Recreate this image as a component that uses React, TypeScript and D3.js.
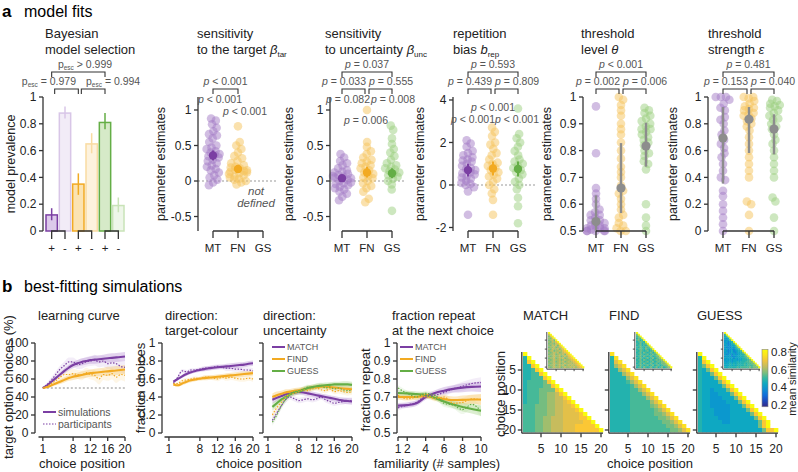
import React, { useMemo } from "react";
import * as d3 from "d3";

const FONT = "'Liberation Sans', Arial, Helvetica, sans-serif";
const AXIS = "#333";
const NOTE = "#555";
const TXT = "#222";

const PURPLE = "#7b3fa3";
const ORANGE = "#f2aa22";
const GREEN = "#64ae46";
const GREY = "#8d8d8d";
const modelColours = [PURPLE, ORANGE, GREEN];
const pointColours = ["#a47cc6", "#f6c35c", "#9ccf7f"];
const bandColours = ["#b58fd3", "#f8c565", "#a2d286"];

// ---------------- panel a: model fits ----------------
const modelCodes = ["MT", "FN", "GS"];
const modelNames = ["MATCH", "FIND", "GUESS"];
const bmsConds = ["+", "-", "+", "-", "+", "-"];
const bmsPrevalence = [0.12, 0.88, 0.35, 0.65, 0.81, 0.19];
const bmsLower = [0.08, 0.84, 0.27, 0.58, 0.76, 0.14];
const bmsUpper = [0.17, 0.93, 0.43, 0.73, 0.88, 0.25];
const bmsFill = ["#dcc9ea", "#f2ecf7", "#fbe3b2", "#fdf2dd", "#d6eac8", "#eef6e9"];
const bmsStroke = [PURPLE, "#d8c6e7", ORANGE, "#f9dba2", GREEN, "#c9e3b8"];
const bmsTicks = [0, 0.2, 0.4, 0.6, 0.8, 1];

// sensitivity to the target
const betaTarMT = [0.88, 0.85, 0.8, 0.75, 0.7, 0.66, 0.64, 0.6, 0.55, 0.5, 0.47, 0.45, 0.42, 0.4, 0.38, 0.37, 0.35, 0.33, 0.3, 0.28, 0.25, 0.22, 0.2, 0.17, 0.15, 0.12, 0.08, 0.05, 0.02, -0.02, -0.06];
const betaTarFN = [0.77, 0.55, 0.5, 0.45, 0.4, 0.35, 0.32, 0.28, 0.25, 0.22, 0.2, 0.19, 0.18, 0.16, 0.15, 0.14, 0.13, 0.12, 0.11, 0.1, 0.08, 0.06, 0.05, 0.03, 0.02, 0.0, -0.02, -0.05];
const betaTarMean = [0.36, 0.17];
const betaTarLo = [0.29, 0.12];
const betaTarHi = [0.43, 0.22];

// sensitivity to uncertainty
const betaUncMT = [0.38, 0.33, 0.28, 0.25, 0.22, 0.18, 0.15, 0.13, 0.12, 0.1, 0.08, 0.07, 0.06, 0.05, 0.04, 0.02, 0.0, -0.02, -0.03, -0.04, -0.06, -0.08, -0.1, -0.12, -0.15, -0.18, -0.22, -0.27];
const betaUncFN = [1.0, 0.55, 0.48, 0.42, 0.38, 0.33, 0.3, 0.27, 0.25, 0.22, 0.2, 0.18, 0.15, 0.12, 0.1, 0.07, 0.05, 0.04, 0.0, -0.03, -0.07, -0.1, -0.15, -0.25, -0.3];
const betaUncGS = [0.78, 0.72, 0.6, 0.52, 0.45, 0.4, 0.35, 0.3, 0.25, 0.22, 0.2, 0.18, 0.16, 0.14, 0.12, 0.1, 0.08, 0.06, 0.03, 0.0, -0.05, -0.12, -0.42];
const betaUncMean = [0.04, 0.12, 0.11];
const betaUncLo = [0.0, 0.05, 0.04];
const betaUncHi = [0.08, 0.2, 0.18];

// repetition bias
const repBiasMT = [2.1, 1.95, 1.8, 1.6, 1.5, 1.4, 1.3, 1.2, 1.15, 1.1, 1.0, 0.9, 0.8, 0.75, 0.7, 0.6, 0.55, 0.5, 0.4, 0.35, 0.3, 0.2, 0.1, 0.05, 0.0, -0.1, -0.3, -1.4];
const repBiasFN = [2.7, 2.5, 2.3, 2.0, 1.9, 1.7, 1.5, 1.4, 1.2, 1.05, 1.0, 0.9, 0.8, 0.7, 0.6, 0.5, 0.4, 0.3, 0.15, 0.0, -0.2, -0.4, -0.7, -1.4];
const repBiasGS = [3.6, 2.4, 2.2, 2.0, 1.8, 1.6, 1.4, 1.2, 1.1, 1.0, 0.9, 0.8, 0.7, 0.6, 0.5, 0.3, 0.15, 0.0, -0.2, -0.6, -1.0, -1.8];
const repBiasMean = [0.7, 0.78, 0.75];
const repBiasLo = [0.4, 0.45, 0.4];
const repBiasHi = [1.0, 1.1, 1.1];

// threshold level
const thetaMT = [0.965, 0.79, 0.66, 0.64, 0.62, 0.6, 0.58, 0.57, 0.56, 0.56, 0.55, 0.54, 0.54, 0.53, 0.53, 0.52, 0.52, 0.52, 0.51, 0.51, 0.51, 0.505, 0.5, 0.5, 0.5, 0.5, 0.5];
const thetaFN = [1.0, 0.99, 0.97, 0.95, 0.93, 0.9, 0.88, 0.86, 0.83, 0.8, 0.77, 0.74, 0.72, 0.7, 0.67, 0.65, 0.64, 0.62, 0.6, 0.58, 0.56, 0.55, 0.53, 0.52, 0.51, 0.5, 0.5];
const thetaGS = [0.96, 0.95, 0.94, 0.93, 0.92, 0.91, 0.9, 0.89, 0.88, 0.88, 0.87, 0.86, 0.85, 0.84, 0.83, 0.82, 0.8, 0.79, 0.78, 0.76, 0.75, 0.73, 0.6, 0.55, 0.52, 0.5];
const thetaMedian = [0.535, 0.66, 0.817];
const thetaLo = [0.5, 0.567, 0.74];
const thetaHi = [0.633, 0.828, 0.904];

// threshold strength
const epsMT = [1.0, 1.0, 1.0, 0.98, 0.95, 0.92, 0.9, 0.85, 0.83, 0.8, 0.75, 0.72, 0.68, 0.65, 0.62, 0.58, 0.55, 0.5, 0.45, 0.4, 0.38, 0.3, 0.26, 0.2, 0.15, 0.1, 0.05, 0.0];
const epsFN = [1.0, 1.0, 0.99, 0.97, 0.95, 0.93, 0.92, 0.91, 0.9, 0.88, 0.87, 0.86, 0.84, 0.82, 0.8, 0.78, 0.75, 0.7, 0.65, 0.6, 0.55, 0.5, 0.45, 0.4, 0.22, 0.2, 0.12, 0.0];
const epsGS = [0.98, 0.97, 0.95, 0.94, 0.93, 0.92, 0.9, 0.88, 0.86, 0.84, 0.83, 0.8, 0.78, 0.76, 0.72, 0.68, 0.65, 0.6, 0.55, 0.5, 0.45, 0.4, 0.25, 0.22, 0.1, 0.0];
const epsMedian = [0.694, 0.834, 0.761];
const epsLo = [0.354, 0.582, 0.572];
const epsHi = [0.925, 0.925, 0.871];

// ---------------- panel b: best-fitting simulations ----------------
const choicePositions = [1, 2, 3, 4, 5, 6, 7, 8, 9, 10, 11, 12, 13, 14, 15, 16, 17, 18, 19, 20];
const choiceTicks = [1, 8, 12, 16, 20];

const lcMatchSim = [50, 53, 57, 61, 65, 69, 72.5, 75.5, 77.5, 79, 80, 81, 81.5, 82, 82.5, 83, 83.5, 84, 84.5, 85];
const lcMatchPpt = [50, 54, 59, 65, 71, 75, 79, 79, 76, 77, 79, 80, 81, 79, 80, 77, 78, 77, 74, 73];
const lcFindSim = [50, 51, 53, 55, 57, 59, 61, 62.5, 63.5, 64.5, 65.5, 66.5, 67, 67.5, 68, 68.5, 69, 69.5, 70, 70.5];
const lcFindPpt = [50, 52, 55, 58, 62, 65, 65, 66, 65, 64, 67, 65, 64, 60, 65, 64, 66, 62, 65, 64];
const lcSimSem = [0.5, 1, 1.5, 2, 2.5, 3, 3, 3.5, 3.5, 4, 4, 4, 4.5, 4.5, 4.5, 5, 5, 5, 5, 5];
const lcPptSem = [1, 2, 3, 3.5, 4, 4.5, 5, 5, 5, 5.5, 5.5, 5.5, 6, 6, 6, 6, 6.5, 6.5, 6.5, 7];

const dirPositions = [2, 3, 4, 5, 6, 7, 8, 9, 10, 11, 12, 13, 14, 15, 16, 17, 18, 19, 20];
const tcMatchSim = [0.57, 0.6, 0.63, 0.655, 0.675, 0.69, 0.7, 0.71, 0.72, 0.725, 0.73, 0.735, 0.74, 0.745, 0.75, 0.755, 0.76, 0.77, 0.775];
const tcMatchPpt = [0.55, 0.62, 0.69, 0.68, 0.7, 0.7, 0.71, 0.72, 0.72, 0.73, 0.74, 0.73, 0.72, 0.72, 0.71, 0.71, 0.7, 0.7, 0.69];
const tcFindSim = [0.54, 0.53, 0.55, 0.57, 0.585, 0.595, 0.605, 0.61, 0.615, 0.62, 0.625, 0.63, 0.635, 0.64, 0.645, 0.65, 0.655, 0.66, 0.665];
const tcFindPpt = [0.55, 0.55, 0.58, 0.59, 0.6, 0.61, 0.6, 0.62, 0.62, 0.61, 0.6, 0.62, 0.61, 0.62, 0.61, 0.6, 0.6, 0.61, 0.6];
const tcSem = [0.015, 0.015, 0.02, 0.02, 0.02, 0.02, 0.02, 0.025, 0.025, 0.025, 0.025, 0.025, 0.03, 0.03, 0.03, 0.03, 0.03, 0.03, 0.03];

const uncMatchSim = [0.37, 0.39, 0.41, 0.43, 0.44, 0.45, 0.455, 0.45, 0.44, 0.43, 0.42, 0.41, 0.4, 0.39, 0.38, 0.37, 0.36, 0.355, 0.35];
const uncFindSim = [0.4, 0.42, 0.435, 0.45, 0.46, 0.47, 0.475, 0.485, 0.495, 0.505, 0.51, 0.515, 0.515, 0.51, 0.505, 0.5, 0.495, 0.49, 0.485];
const uncGuessSim = [0.29, 0.33, 0.37, 0.4, 0.43, 0.45, 0.46, 0.48, 0.5, 0.51, 0.52, 0.525, 0.53, 0.535, 0.54, 0.54, 0.54, 0.54, 0.535];
const uncMatchPpt = [0.14, 0.22, 0.3, 0.37, 0.4, 0.38, 0.36, 0.37, 0.38, 0.37, 0.38, 0.4, 0.37, 0.35, 0.33, 0.34, 0.35, 0.36, 0.36];
const uncFindPpt = [0.2, 0.28, 0.34, 0.4, 0.43, 0.44, 0.46, 0.48, 0.47, 0.49, 0.5, 0.48, 0.47, 0.49, 0.46, 0.47, 0.46, 0.45, 0.46];
const uncGuessPpt = [0.12, 0.2, 0.3, 0.37, 0.42, 0.46, 0.47, 0.49, 0.51, 0.5, 0.52, 0.53, 0.5, 0.51, 0.49, 0.5, 0.48, 0.47, 0.48];
const uncSem = [0.04, 0.04, 0.035, 0.035, 0.03, 0.03, 0.03, 0.03, 0.03, 0.03, 0.03, 0.03, 0.03, 0.03, 0.03, 0.03, 0.035, 0.035, 0.035];

const familiarity = [1, 2, 3, 4, 5, 6, 7, 8, 9, 10];
const familiarityTicks = [1, 2, 4, 6, 8, 10];
const repMatchSim = [0.652, 0.655, 0.665, 0.7, 0.722, 0.735, 0.745, 0.752, 0.756, 0.758];
const repFindSim = [0.7, 0.7, 0.7, 0.705, 0.695, 0.688, 0.683, 0.684, 0.686, 0.686];
const repGuessSim = [0.722, 0.72, 0.716, 0.712, 0.695, 0.675, 0.658, 0.645, 0.633, 0.624];
const repMatchPpt = [0.64, 0.655, 0.67, 0.705, 0.71, 0.725, 0.745, 0.76, 0.775, 0.78];
const repFindPpt = [0.71, 0.69, 0.7, 0.715, 0.69, 0.7, 0.665, 0.67, 0.69, 0.685];
const repGuessPpt = [0.75, 0.72, 0.7, 0.72, 0.71, 0.665, 0.655, 0.63, 0.66, 0.62];
const repSem = [0.015, 0.015, 0.015, 0.015, 0.015, 0.02, 0.02, 0.025, 0.025, 0.03];

// similarity matrices: one string per choice position, one hex level per earlier choice
const matchSimilarity = [
  "f", "7f", "7df", "77df", "778df", "7788df", "77888df", "788889df", "7888899df", "78889999df",
  "788899aabdf", "788899aabbdf", "788899aabbcdf", "888999aabbccdf", "888999aabbcccdf",
  "888999aabbccccdf", "88899aabbbccccddf", "88899aabbbcccccddf", "88899aabbbcccdddddf", "88899aabbbcccddddddf",
];
const findSimilarity = [
  "e", "7e", "7ce", "7ace", "77ace", "777ace", "7777ace", "77778ace", "777778ace", "7777788ace",
  "77777888ace", "777778888ace", "7777788888ace", "77777888889ace", "777778888889ace",
  "7777788888899ace", "77777888888899ace", "777778888888899ace", "7777788888888899ace", "77777888888888899ace",
];
const guessSimilarity = [
  "f", "7f", "7df", "79df", "769df", "7669df", "76669df", "766669df", "7666669df", "76656669df",
  "766556669df", "7665556669df", "76655556669df", "766555556669df", "7666555566669df",
  "76665555666669df", "766665556666669df", "7666665566666669df", "7666666666666669df", "76666666666666669ddf",
];
const matchSimilarityPpt = [
  "f", "bf", "9cf", "a9cf", "9ab9f", "a9bacf", "9aa9bcf", "a9bab9cf", "9aab9abcf", "a9baab9bcf",
  "9ab9aabacdf", "a9abab9abcdf", "9aab9abab9cdf", "a9abaab9abacdf", "9aab9abab9abcdf",
  "a9abaab9abaabcdf", "9aab9abab9ababcdf", "a9abaab9abaababcdf", "9aab9abab9abababcdf", "a9abaab9abaabababcdf",
];
const findSimilarityPpt = [
  "f", "9f", "89f", "798f", "8978f", "78987f", "879789f", "7897879f", "87987989f", "789879879f",
  "8798789789f", "78979878979f", "879878978989f", "7897987897899f", "8798789789789af",
  "78979878978989af", "879878978978989af", "7897987897897899af", "87987897897897899af", "789798789789789789af",
];
const guessSimilarityPpt = [
  "f", "7f", "68f", "657f", "5568f", "56467f", "654578f", "5645668f", "64546579f", "564554678f",
  "6545645678f", "56456546679f", "645646556778f", "5656455667789f", "65656465667789f",
  "565656656677789f", "6566566767778899f", "66676767777878899f", "666767677778788899f", "7677777878888898999f",
];
const similarityTicks = [5, 10, 15, 20];
const colourbarTicks = [0.2, 0.4, 0.6, 0.8];

// parula-like colour map
const parula = ["#352a87", "#0f5cdd", "#1481d6", "#06a4ca", "#2eb7a4", "#87bf77", "#d1bb59", "#fec832", "#f9fb0e"];
const simColour = d3.scaleSequential(d3.piecewise(d3.interpolateRgb, parula)).domain([0.2, 0.8]).clamp(true);
const levelValue = (ch: string) => 0.2 + parseInt(ch, 16) * 0.04;

// ---------------- helpers ----------------
function YAxis({ x, scale, ticks, labels = true, fmt = (v: number) => String(v), size = 12 }: any) {
  const r = scale.range();
  return (
    <g>
      <line x1={x} x2={x} y1={Math.min(r[0], r[1])} y2={Math.max(r[0], r[1])} stroke={AXIS} strokeWidth={1.3} />
      {ticks.map((t: number) => (
        <g key={t}>
          <line x1={x - 4} x2={x} y1={scale(t)} y2={scale(t)} stroke={AXIS} strokeWidth={1.3} />
          {labels && (
            <text x={x - 6.5} y={scale(t)} dy="0.35em" textAnchor="end" fontSize={size} fill={TXT}>
              {fmt(t)}
            </text>
          )}
        </g>
      ))}
    </g>
  );
}

function XAxis({ y, scale, ticks, from, to, labelY, size = 12, labels = true, tick = 4 }: any) {
  return (
    <g>
      <line x1={from} x2={to} y1={y} y2={y} stroke={AXIS} strokeWidth={1.3} />
      {ticks.map((t: number) => (
        <g key={t}>
          <line x1={scale(t)} x2={scale(t)} y1={y} y2={y + tick} stroke={AXIS} strokeWidth={1.3} />
          {labels && (
            <text x={scale(t)} y={labelY} textAnchor="middle" fontSize={size} fill={TXT}>
              {t}
            </text>
          )}
        </g>
      ))}
    </g>
  );
}

function VText({ x, y, children, size = 12.5 }: any) {
  return (
    <text transform={`translate(${x},${y}) rotate(-90)`} textAnchor="middle" fontSize={size} fill={TXT}>
      {children}
    </text>
  );
}

function PText({ x, y, text, anchor = "middle" }: any) {
  return (
    <text x={x} y={y} textAnchor={anchor} fontSize={10.5} fill={NOTE}>
      <tspan fontStyle="italic">p</tspan>
      {" " + text}
    </text>
  );
}

function PEsc({ x, y, text, anchor = "middle" }: any) {
  return (
    <text x={x} y={y} textAnchor={anchor} fontSize={10.5} fill={NOTE}>
      p<tspan fontSize={6.5} dy={2}>esc</tspan>
      <tspan dy={-2}>{" " + text}</tspan>
    </text>
  );
}

function Bracket({ x1, x2, y, drop = 5 }: any) {
  return <path d={`M${x1},${y + drop}V${y}H${x2}V${y + drop}`} fill="none" stroke={AXIS} strokeWidth={1.1} />;
}

const Y_TOP = 97;
const Y_BOT = 231;

function Swarm({ values, cx, y, colour }: any) {
  const pts = useMemo(() => {
    const nodes: any[] = values.map((v: number, i: number) => ({
      x: cx + (((i * 7) % 11) - 5) * 0.9,
      y: y(v),
      ty: y(v),
    }));
    const sim = d3
      .forceSimulation(nodes)
      .force("x", d3.forceX(cx).strength(0.07))
      .force("y", d3.forceY((d: any) => d.ty).strength(0.9))
      .force("c", d3.forceCollide(2.6))
      .stop();
    for (let k = 0; k < 160; k++) sim.tick();
    return nodes.map((n) => ({ x: Math.max(cx - 9, Math.min(cx + 9, n.x)), y: n.ty }));
  }, [values, cx]);
  return (
    <g>
      {pts.map((p: any, i: number) => (
        <circle key={i} cx={p.x} cy={p.y} r={4.3} fill={colour} fillOpacity={0.5} />
      ))}
    </g>
  );
}

function ScatterPanel({ cfg }: any) {
  const y = d3.scaleLinear().domain(cfg.domain).range([Y_BOT, Y_TOP]);
  const xs = cfg.catX;
  return (
    <g>
      {cfg.zeroLine && (
        <line x1={cfg.zeroLine[0]} x2={cfg.zeroLine[1]} y1={y(0)} y2={y(0)} stroke="#9a9a9a" strokeWidth={1.1} strokeDasharray="2 2" />
      )}
      {cfg.groups.map((vals: number[], gi: number) => (
        <Swarm key={gi} values={vals} cx={xs[gi]} y={y} colour={pointColours[gi]} />
      ))}
      {cfg.mean.map((m: number, gi: number) => (
        <g key={gi}>
          <line x1={xs[gi]} x2={xs[gi]} y1={y(cfg.lo[gi])} y2={y(cfg.hi[gi])} stroke={cfg.meanColours[gi]} strokeWidth={cfg.grey ? 2.4 : 2} />
          <circle cx={xs[gi]} cy={y(m)} r={cfg.grey ? 4.6 : 4.2} fill={cfg.meanColours[gi]} />
        </g>
      ))}
      <YAxis x={cfg.axisX} scale={y} ticks={cfg.ticks} />
      <VText x={cfg.yTitleX} y={164}>parameter estimates</VText>
      <line x1={xs[0]} x2={xs[2]} y1={Y_BOT} y2={Y_BOT} stroke={AXIS} strokeWidth={1.3} />
      {modelCodes.map((c, i) => (
        <g key={c}>
          <line x1={xs[i]} x2={xs[i]} y1={Y_BOT} y2={Y_BOT + 7} stroke={AXIS} strokeWidth={1.3} />
          <text x={xs[i]} y={252} textAnchor="middle" fontSize={11.5} fill={TXT}>
            {c}
          </text>
        </g>
      ))}
      {cfg.top && (
        <g>
          <Bracket x1={xs[0]} x2={xs[2]} y={72} />
          <PText x={(xs[0] + xs[2]) / 2} y={68} text={cfg.top} />
        </g>
      )}
      {cfg.left && (
        <g>
          <Bracket x1={xs[0]} x2={xs[1] - 2} y={89} />
          <PText x={xs[1] - 1} y={85} text={cfg.left} anchor="end" />
        </g>
      )}
      {cfg.right && (
        <g>
          <Bracket x1={xs[1] + 2} x2={xs[2]} y={89} />
          <PText x={xs[1] + 2} y={85} text={cfg.right} anchor="start" />
        </g>
      )}
      {cfg.single && (
        <g>
          <Bracket x1={xs[0]} x2={xs[1]} y={89} />
          <PText x={(xs[0] + xs[1]) / 2} y={85} text={cfg.single} />
        </g>
      )}
      {cfg.vsZero.map((s: any, i: number) => (
        <PText key={i} x={s.x} y={s.y} text={s.text} />
      ))}
    </g>
  );
}

function BmsPanel() {
  const x = d3.scaleBand<number>().domain([0, 1, 2, 3, 4, 5]).range([46, 124]).paddingInner(0.15);
  const y = d3.scaleLinear().domain([0, 1]).range([Y_BOT, Y_TOP]);
  const c = (i: number) => (x(i) as number) + x.bandwidth() / 2;
  return (
    <g>
      <text x={45} y={38} fontSize={13} fill={TXT}>Bayesian</text>
      <text x={45} y={54} fontSize={13} fill={TXT}>model selection</text>
      {bmsPrevalence.map((v, i) => (
        <g key={i}>
          <rect x={x(i)} y={y(v)} width={x.bandwidth()} height={Y_BOT - y(v)} fill={bmsFill[i]} stroke={bmsStroke[i]} strokeWidth={1.5} />
          <line x1={c(i)} x2={c(i)} y1={y(bmsLower[i])} y2={y(bmsUpper[i])} stroke={bmsStroke[i]} strokeWidth={1.5} />
          <text x={c(i)} y={252} textAnchor="middle" fontSize={11.5} fill={TXT}>
            {bmsConds[i]}
          </text>
        </g>
      ))}
      {[0, 2, 4].map((i) => (
        <path key={i} d={`M${c(i)},${Y_BOT + 8}V${Y_BOT}H${c(i + 1)}V${Y_BOT + 8}`} fill="none" stroke={AXIS} strokeWidth={1.3} />
      ))}
      <YAxis x={43} scale={y} ticks={bmsTicks} />
      <VText x={15} y={164}>model prevalence</VText>
      <Bracket x1={c(0)} x2={c(4)} y={72} />
      <PEsc x={85} y={68} text="> 0.999" />
      <Bracket x1={c(0) + 3} x2={c(2)} y={89} />
      <PEsc x={76} y={85} text="= 0.979" anchor="end" />
      <Bracket x1={c(2) + 3} x2={c(4)} y={89} />
      <PEsc x={86} y={85} text="= 0.994" anchor="start" />
    </g>
  );
}

const Sub = ({ children }: any) => (
  <tspan fontSize={8} dy={3}>
    {children}
  </tspan>
);

function CurvePanel({ axisX, xScale, yScale, yTicks, yLabels = true, fmt, xTicks, positions, series }: any) {
  const line = (vals: number[]) =>
    d3
      .line<number>()
      .x((_, i) => xScale(positions[i]))
      .y((d) => yScale(d))
      .curve(d3.curveMonotoneX)(vals) as string;
  const band = (vals: number[], sem: number[]) =>
    d3
      .area<number>()
      .x((_, i) => xScale(positions[i]))
      .y0((d, i) => yScale(d - sem[i]))
      .y1((d, i) => yScale(d + sem[i]))
      .curve(d3.curveMonotoneX)(vals) as string;
  const dom = xScale.domain();
  return (
    <g>
      {series.map((s: any, i: number) => (
        <path key={"pb" + i} d={band(s.ppt, s.pptSem)} fill={s.band} fillOpacity={0.16} />
      ))}
      {series.map((s: any, i: number) => (
        <path key={"sb" + i} d={band(s.sim, s.sem)} fill={s.band} fillOpacity={0.38} />
      ))}
      {series.map((s: any, i: number) => (
        <path key={"sl" + i} d={line(s.sim)} fill="none" stroke={s.colour} strokeWidth={2.1} />
      ))}
      {series.map((s: any, i: number) => (
        <path key={"pl" + i} d={line(s.ppt)} fill="none" stroke={s.colour} strokeWidth={1.2} strokeDasharray="1.5 1.5" />
      ))}
      <YAxis x={axisX} scale={yScale} ticks={yTicks} labels={yLabels} fmt={fmt} />
      <XAxis y={437} scale={xScale} ticks={xTicks} from={xScale(dom[0])} to={xScale(dom[1])} labelY={453} />
    </g>
  );
}

function Legend({ x, y, entries }: any) {
  return (
    <g>
      {entries.map((e: any, i: number) => (
        <g key={i}>
          <line x1={x} x2={x + 13} y1={y + i * 12} y2={y + i * 12} stroke={e.colour} strokeWidth={e.dotted ? 1.2 : 2} strokeDasharray={e.dotted ? "1.5 1.5" : undefined} />
          <text x={x + 15} y={y + i * 12} dy="0.35em" fontSize={e.size || 9} fill={NOTE}>
            {e.label}
          </text>
        </g>
      ))}
    </g>
  );
}

function Triangle({ rows, x0, y0, size, yLabels = false, xLabels = true, small = false }: any) {
  const idx = rows.map((_: string, i: number) => i + 1);
  const x = d3.scaleBand<number>().domain(idx).range([x0, x0 + size]);
  const y = d3.scaleBand<number>().domain(idx).range([y0, y0 + size]);
  const bw = x.bandwidth();
  const tick = small ? 2 : 4;
  const sw = small ? 0.9 : 1.3;
  return (
    <g>
      {rows.map((row: string, i: number) =>
        row.split("").map((ch, j) => (
          <rect key={i + "-" + j} x={x(j + 1)} y={y(i + 1)} width={bw + 0.35} height={bw + 0.35} fill={simColour(levelValue(ch))} />
        ))
      )}
      <line x1={x0 - 1.2} x2={x0 - 1.2} y1={y0} y2={y0 + size + 1.2} stroke={AXIS} strokeWidth={sw} />
      <line x1={x0 - 1.2} x2={x0 + size} y1={y0 + size + 1.2} y2={y0 + size + 1.2} stroke={AXIS} strokeWidth={sw} />
      {similarityTicks.map((t) => (
        <g key={t}>
          <line x1={x0 - 1.2 - tick} x2={x0 - 1.2} y1={(y(t) as number) + bw / 2} y2={(y(t) as number) + bw / 2} stroke={AXIS} strokeWidth={sw} />
          <line x1={(x(t) as number) + bw / 2} x2={(x(t) as number) + bw / 2} y1={y0 + size + 1.2} y2={y0 + size + 1.2 + tick} stroke={AXIS} strokeWidth={sw} />
          {yLabels && (
            <text x={x0 - 7} y={(y(t) as number) + bw / 2} dy="0.35em" textAnchor="end" fontSize={12} fill={TXT}>
              {t}
            </text>
          )}
          {xLabels && (
            <text x={(x(t) as number) + bw / 2} y={453} textAnchor="middle" fontSize={12} fill={TXT}>
              {t}
            </text>
          )}
        </g>
      ))}
    </g>
  );
}

const scatterPanels = [
  {
    axisX: 198, catX: [213, 238, 263], domain: [-0.704, 1.183], ticks: [-0.5, 0, 0.5, 1],
    groups: [betaTarMT, betaTarFN], mean: betaTarMean, lo: betaTarLo, hi: betaTarHi,
    meanColours: [PURPLE, ORANGE], zeroLine: [198, 278], yTitleX: 165,
    single: "< 0.001",
    vsZero: [{ x: 220, y: 103, text: "< 0.001" }, { x: 245, y: 115, text: "< 0.001" }],
  },
  {
    axisX: 330, catX: [342, 367, 392], domain: [-0.704, 1.183], ticks: [-0.5, 0, 0.5, 1],
    groups: [betaUncMT, betaUncFN, betaUncGS], mean: betaUncMean, lo: betaUncLo, hi: betaUncHi,
    meanColours: modelColours, zeroLine: [330, 406], yTitleX: 293,
    top: "= 0.037", left: "= 0.033", right: "= 0.555",
    vsZero: [{ x: 348, y: 103, text: "= 0.082" }, { x: 393, y: 103, text: "= 0.008" }, { x: 366, y: 124, text: "= 0.006" }],
  },
  {
    axisX: 453, catX: [468, 493, 518], domain: [-2.165, 4.14], ticks: [-2, 0, 2, 4],
    groups: [repBiasMT, repBiasFN, repBiasGS], mean: repBiasMean, lo: repBiasLo, hi: repBiasHi,
    meanColours: modelColours, zeroLine: [453, 536], yTitleX: 424,
    top: "= 0.593", left: "= 0.439", right: "= 0.809",
    vsZero: [{ x: 493, y: 111, text: "< 0.001" }, { x: 473, y: 123, text: "< 0.001" }, { x: 517, y: 123, text: "< 0.001" }],
  },
  {
    axisX: 583, catX: [596, 621, 646], domain: [0.5, 1], ticks: [0.5, 0.6, 0.7, 0.8, 0.9, 1],
    groups: [thetaMT, thetaFN, thetaGS], mean: thetaMedian, lo: thetaLo, hi: thetaHi,
    meanColours: [GREY, GREY, GREY], grey: true, yTitleX: 551,
    top: "< 0.001", left: "= 0.002", right: "= 0.006", vsZero: [],
  },
  {
    axisX: 708, catX: [723, 749, 774], domain: [0, 1], ticks: [0, 0.2, 0.4, 0.6, 0.8, 1],
    groups: [epsMT, epsFN, epsGS], mean: epsMedian, lo: epsLo, hi: epsHi,
    meanColours: [GREY, GREY, GREY], grey: true, yTitleX: 677,
    top: "= 0.481", left: "= 0.153", right: "= 0.040", vsZero: [],
  },
];

export default function App() {
  // panel b scales
  const yLc = d3.scaleLinear().domain([0, 100]).range([433, 343]);
  const yFrac = d3.scaleLinear().domain([0, 1]).range([433, 343]);
  const yRep = d3.scaleLinear().domain([0.5, 1]).range([433, 343]);
  const xLc = d3.scaleLinear().domain([0, 20]).range([38.5, 125]);
  const xTc = d3.scaleLinear().domain([0, 20]).range([164.5, 253]);
  const xUnc = d3.scaleLinear().domain([0, 20]).range([263.5, 352]);
  const xRep = d3.scaleLinear().domain([1, 10]).range([398, 481]);
  const cb = d3.scaleLinear().domain([0.2, 0.8]).range([405, 352]);
  const cbStops = [0, 0.1, 0.2, 0.3, 0.4, 0.5, 0.6, 0.7, 0.8, 0.9, 1];

  const lcSeries = [
    { sim: lcMatchSim, ppt: lcMatchPpt, sem: lcSimSem, pptSem: lcPptSem, colour: PURPLE, band: bandColours[0] },
    { sim: lcFindSim, ppt: lcFindPpt, sem: lcSimSem, pptSem: lcPptSem, colour: ORANGE, band: bandColours[1] },
  ];
  const tcSeries = [
    { sim: tcMatchSim, ppt: tcMatchPpt, sem: tcSem, pptSem: tcSem, colour: PURPLE, band: bandColours[0] },
    { sim: tcFindSim, ppt: tcFindPpt, sem: tcSem, pptSem: tcSem, colour: ORANGE, band: bandColours[1] },
  ];
  const uncSeries = [
    { sim: uncMatchSim, ppt: uncMatchPpt, sem: uncSem, pptSem: uncSem, colour: PURPLE, band: bandColours[0] },
    { sim: uncFindSim, ppt: uncFindPpt, sem: uncSem, pptSem: uncSem, colour: ORANGE, band: bandColours[1] },
    { sim: uncGuessSim, ppt: uncGuessPpt, sem: uncSem, pptSem: uncSem, colour: GREEN, band: bandColours[2] },
  ];
  const repSeries = [
    { sim: repMatchSim, ppt: repMatchPpt, sem: repSem, pptSem: repSem, colour: PURPLE, band: bandColours[0] },
    { sim: repFindSim, ppt: repFindPpt, sem: repSem, pptSem: repSem, colour: ORANGE, band: bandColours[1] },
    { sim: repGuessSim, ppt: repGuessPpt, sem: repSem, pptSem: repSem, colour: GREEN, band: bandColours[2] },
  ];
  const modelLegend = modelNames.map((m, i) => ({ label: m, colour: modelColours[i] }));

  return (
    <svg width={798} height={472} fontFamily={FONT} style={{ position: "absolute", left: 0, top: 0, background: "#fff" }}>
      <defs>
        <linearGradient id="cbar" x1="0" y1="1" x2="0" y2="0">
          {cbStops.map((s) => (
            <stop key={s} offset={s} stopColor={simColour(0.18 + s * 0.65)} />
          ))}
        </linearGradient>
      </defs>

      {/* ---------- a ---------- */}
      <text x={2} y={17} fontSize={17} fontWeight="bold" fill="#000">a</text>
      <text x={24} y={17} fontSize={16} fill="#000">model fits</text>
      <BmsPanel />

      <text x={197} y={38} fontSize={13} fill={TXT}>sensitivity</text>
      <text x={197} y={54} fontSize={13} fill={TXT}>
        to the target <tspan fontStyle="italic">β</tspan>
        <Sub>tar</Sub>
      </text>
      <text x={325} y={38} fontSize={13} fill={TXT}>sensitivity</text>
      <text x={325} y={54} fontSize={13} fill={TXT}>
        to uncertainty <tspan fontStyle="italic">β</tspan>
        <Sub>unc</Sub>
      </text>
      <text x={453} y={38} fontSize={13} fill={TXT}>repetition</text>
      <text x={453} y={54} fontSize={13} fill={TXT}>
        bias <tspan fontStyle="italic">b</tspan>
        <Sub>rep</Sub>
      </text>
      <text x={581} y={38} fontSize={13} fill={TXT}>threshold</text>
      <text x={581} y={54} fontSize={13} fill={TXT}>
        level <tspan fontStyle="italic">θ</tspan>
      </text>
      <text x={708} y={38} fontSize={13} fill={TXT}>threshold</text>
      <text x={708} y={54} fontSize={13} fill={TXT}>
        strength <tspan fontStyle="italic">ε</tspan>
      </text>

      {scatterPanels.map((cfg, i) => (
        <ScatterPanel key={i} cfg={cfg} />
      ))}
      <text x={256} y={195} textAnchor="middle" fontSize={11.5} fontStyle="italic" fill={NOTE}>not</text>
      <text x={256} y={207} textAnchor="middle" fontSize={11.5} fontStyle="italic" fill={NOTE}>defined</text>

      {/* ---------- b ---------- */}
      <text x={2} y={292} fontSize={17} fontWeight="bold" fill="#000">b</text>
      <text x={24} y={292} fontSize={16} fill="#000">best-fitting simulations</text>

      <text x={38} y={320} fontSize={13} fill={TXT}>learning curve</text>
      <line x1={xLc(1)} x2={xLc(20)} y1={yLc(50)} y2={yLc(50)} stroke="#888" strokeWidth={1} strokeDasharray="2 2" />
      <CurvePanel axisX={35} xScale={xLc} yScale={yLc} yTicks={[0, 20, 40, 60, 80, 100]} xTicks={choiceTicks} positions={choicePositions} series={lcSeries} />
      <Legend
        x={43}
        y={412}
        entries={[
          { label: "simulations", colour: PURPLE, size: 10.5 },
          { label: "participants", colour: PURPLE, dotted: true, size: 10.5 },
        ]}
      />
      <VText x={13} y={387} size={13}>target option choices (%)</VText>
      <text x={82} y={468} textAnchor="middle" fontSize={13} fill={TXT}>choice position</text>

      <text x={165} y={320} fontSize={13} fill={TXT}>direction:</text>
      <text x={165} y={335} fontSize={13} fill={TXT}>target-colour</text>
      <CurvePanel axisX={162} xScale={xTc} yScale={yFrac} yTicks={[0, 0.2, 0.4, 0.6, 0.8, 1]} xTicks={choiceTicks} positions={dirPositions} series={tcSeries} />
      <VText x={145} y={388} size={13}>fraction choices</VText>

      <text x={263} y={320} fontSize={13} fill={TXT}>direction:</text>
      <text x={263} y={335} fontSize={13} fill={TXT}>uncertainty</text>
      <CurvePanel axisX={263} xScale={xUnc} yScale={yFrac} yTicks={[0, 0.2, 0.4, 0.6, 0.8, 1]} yLabels={false} xTicks={choiceTicks} positions={dirPositions} series={uncSeries} />
      <Legend x={272} y={347} entries={modelLegend} />
      <text x={259} y={468} textAnchor="middle" fontSize={13} fill={TXT}>choice position</text>

      <text x={392} y={320} fontSize={13} fill={TXT}>fraction repeat</text>
      <text x={392} y={335} fontSize={13} fill={TXT}>at the next choice</text>
      <CurvePanel axisX={397} xScale={xRep} yScale={yRep} yTicks={[0.5, 0.6, 0.7, 0.8, 0.9, 1]} xTicks={familiarityTicks} positions={familiarity} series={repSeries} />
      <Legend x={400} y={347} entries={modelLegend} />
      <VText x={370} y={390} size={13}>fraction repeat</VText>
      <text x={437} y={468} textAnchor="middle" fontSize={13} fill={TXT}>familiarity (# samples)</text>

      {/* similarity matrices */}
      <text x={523} y={320} fontSize={13} fill={TXT}>MATCH</text>
      <text x={609} y={320} fontSize={13} fill={TXT}>FIND</text>
      <text x={697} y={320} fontSize={13} fill={TXT}>GUESS</text>
      <Triangle rows={matchSimilarity} x0={523} y0={352} size={80} yLabels />
      <Triangle rows={findSimilarity} x0={610} y0={352} size={80} />
      <Triangle rows={guessSimilarity} x0={698} y0={352} size={80} />
      <Triangle rows={matchSimilarityPpt} x0={548} y0={332} size={36} small xLabels={false} />
      <Triangle rows={findSimilarityPpt} x0={636} y0={332} size={36} small xLabels={false} />
      <Triangle rows={guessSimilarityPpt} x0={724} y0={332} size={36} small xLabels={false} />
      <VText x={505} y={394} size={13}>choice position</VText>
      <text x={650} y={468} textAnchor="middle" fontSize={13} fill={TXT}>choice position</text>

      <rect x={762} y={cb(0.83)} width={6} height={cb(0.18) - cb(0.83)} fill="url(#cbar)" stroke="#888" strokeWidth={0.6} />
      {colourbarTicks.map((t) => (
        <text key={t} x={771} y={cb(t)} dy="0.35em" fontSize={11.5} fill={TXT}>
          {t}
        </text>
      ))}
      <VText x={796} y={379} size={11}>mean similarity</VText>
    </svg>
  );
}
